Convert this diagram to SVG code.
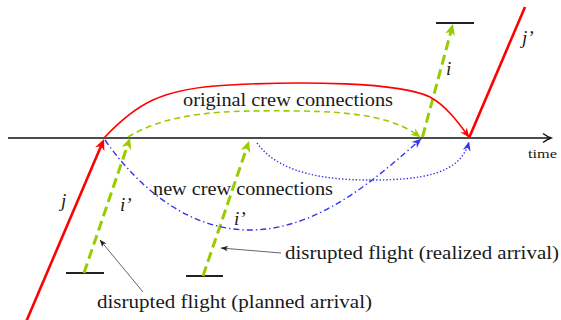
<svg xmlns="http://www.w3.org/2000/svg" width="561" height="320" viewBox="0 0 561 320">
<style>
.txt{font-family:'Liberation Serif','DejaVu Serif',serif;font-size:19px;fill:#1a1a1a}
.math{font-family:'Liberation Serif','DejaVu Serif',serif;font-style:italic;font-size:19px;fill:#1a1a1a}
.red{stroke:#ff0000;fill:none}
.grn{stroke:#99cc00;fill:none}
.blu{stroke:#3333ee;fill:none}
.bar{stroke:#222;stroke-width:2}
</style>
<defs>
<marker id="aRedBig" markerUnits="userSpaceOnUse" viewBox="-8 -7 16 14" refX="0" refY="0" markerWidth="16" markerHeight="14" orient="auto" overflow="visible"><path d="M6,0 L-5,-5 L-2,0 L-5,5 Z" fill="#ff0000"/></marker>
<marker id="aRed" markerUnits="userSpaceOnUse" viewBox="-10 -6 12 12" refX="0" refY="0" markerWidth="12" markerHeight="12" orient="auto" overflow="visible"><path d="M0.5,0 L-9,-4 L-6,0 L-9,4 Z" fill="#ff0000"/></marker>
<marker id="aGrnBig" markerUnits="userSpaceOnUse" viewBox="-8 -7 16 14" refX="0" refY="0" markerWidth="16" markerHeight="14" orient="auto" overflow="visible"><path d="M6,0 L-5,-5 L-2,0 L-5,5 Z" fill="#99cc00"/></marker>
<marker id="aGrn" markerUnits="userSpaceOnUse" viewBox="-10 -6 12 12" refX="0" refY="0" markerWidth="12" markerHeight="12" orient="auto" overflow="visible"><path d="M0.5,0 L-9,-4 L-6,0 L-9,4 Z" fill="#99cc00"/></marker>
<marker id="aBlu" markerUnits="userSpaceOnUse" viewBox="-10 -6 12 12" refX="0" refY="0" markerWidth="12" markerHeight="12" orient="auto" overflow="visible"><path d="M0.5,0 L-9,-4 L-6,0 L-9,4 Z" fill="#3333ee"/></marker>
<marker id="aBlk" markerUnits="userSpaceOnUse" viewBox="-8 -4 9 8" refX="0" refY="0" markerWidth="9" markerHeight="8" orient="auto" overflow="visible"><path d="M0.3,0 L-7,-2.8 L-5,0 L-7,2.8 Z" fill="#222"/></marker>
</defs>

<g id="time-axis">
<path d="M8,138 H550" stroke="#111" stroke-width="1.6" fill="none"/>
<path d="M543,133.5 Q547,136.5 551,138 Q547,139.5 543,142.5" stroke="#111" stroke-width="1.5" fill="none"/>
<text class="txt" x="528" y="158" style="font-size:13px" textLength="29" lengthAdjust="spacingAndGlyphs">time</text>
</g>

<g id="flight-j">
<path class="red" d="M26,322 L101.7,144.5" stroke-width="2.6" marker-end="url(#aRedBig)"/>
<text class="math" x="61" y="207">j</text>
</g>

<g id="flight-j-prime">
<path class="red" d="M469,138 L525,7" stroke-width="2.6"/>
<text class="math" x="522" y="44">j’</text>
</g>

<g id="flight-i-prime-planned">
<path class="bar" d="M66,273 H104"/>
<path class="grn" d="M84,273 L128.1,143.7" stroke-width="3" stroke-dasharray="10,5" marker-end="url(#aGrnBig)"/>
<text class="math" x="120" y="211">i’</text>
</g>

<g id="flight-i-prime-realized">
<path class="bar" d="M186,276 H223"/>
<path class="grn" d="M203,276 L247.1,146.7" stroke-width="3" stroke-dasharray="10,5" marker-end="url(#aGrnBig)"/>
<text class="math" x="234" y="225">i’</text>
</g>

<g id="flight-i">
<path class="bar" d="M436,23 H474"/>
<path class="grn" d="M422.5,137 L451.4,29.8" stroke-width="3" stroke-dasharray="10,5" marker-end="url(#aGrnBig)"/>
<text class="math" x="446" y="75">i</text>
</g>

<g id="connectors">
<path class="red" d="M104,138 C135,105 160,88 230,85 C300,81 400,82 430,97 C448,107 460,125 469,137" stroke-width="1.6" marker-end="url(#aRed)"/>
<path class="grn" d="M128,137 C170,112 220,110 300,111 C360,112 395,118 420,137" stroke-width="1.6" stroke-dasharray="6,4" marker-end="url(#aGrn)"/>
<path class="blu" d="M105,140 C140,190 190,230 250,230 C320,230 380,175 421,139" stroke-width="1.4" stroke-dasharray="6,3,1.4,3" marker-end="url(#aBlu)"/>
<path class="blu" d="M257,143 C280,175 330,180 370,180 C420,180 460,175 469,142" stroke-width="1.4" stroke-dasharray="1.4,2" marker-end="url(#aBlu)"/>
<path d="M143,292 L100,240" stroke="#222" stroke-width="0.7" fill="none" marker-end="url(#aBlk)"/>
<path d="M281,253 L221,248" stroke="#222" stroke-width="0.7" fill="none" marker-end="url(#aBlk)"/>
</g>

<g id="labels">
<text class="txt" x="183" y="106" textLength="210" lengthAdjust="spacingAndGlyphs">original crew connections</text>
<text class="txt" x="153" y="195" textLength="180" lengthAdjust="spacingAndGlyphs">new crew connections</text>
<text class="txt" x="285" y="259" textLength="274" lengthAdjust="spacingAndGlyphs">disrupted flight (realized arrival)</text>
<text class="txt" x="97" y="308" textLength="275" lengthAdjust="spacingAndGlyphs">disrupted flight (planned arrival)</text>
</g>
</svg>
